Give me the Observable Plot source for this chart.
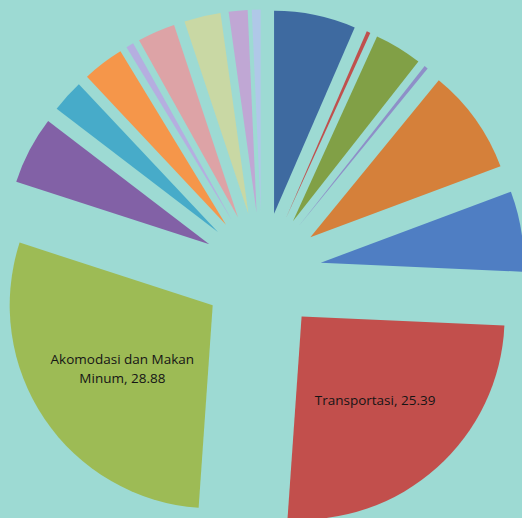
<!DOCTYPE html>
<html>
<head>
<meta charset="utf-8">
<script src="https://cdn.jsdelivr.net/npm/d3@7"></script>
<script src="https://cdn.jsdelivr.net/npm/@observablehq/plot@0.6"></script>
<style>
  html, body { margin: 0; padding: 0; background: #9ddad3; overflow: hidden; }
  #chart svg { display: block; }
</style>
</head>
<body>
<div id="chart"></div>
<script>
// Categories, clockwise from 12 o'clock
const categories = [
  "Kategori 1", "Kategori 2", "Kategori 3", "Kategori 4", "Kategori 5", "Kategori 6",
  "Transportasi", "Akomodasi dan Makan Minum",
  "Kategori 9", "Kategori 10", "Kategori 11", "Kategori 12", "Kategori 13",
  "Kategori 14", "Kategori 15", "Kategori 16"
];
const values = [
  6.5, 0.3, 3.8, 0.3, 8.4, 6.4,
  25.39, 28.88,
  5.4, 2.6, 3.3, 0.6, 3.0, 2.9, 1.5, 0.7
];
const colors = [
  "#3e6aa0", "#c0504d", "#81a046", "#8e8fc8", "#d5803a", "#4f7ec3",
  "#c24f4c", "#9dbb55",
  "#8261a6", "#47abc9", "#f5964a", "#b5aee0", "#dda3a6", "#c9d8a4", "#c0a7d4", "#b0c8e8"
];
const labelled = ["Transportasi", "Akomodasi dan Makan Minum"];

const explode = 0.293;   // slice offset, in radius units
const labelDist = 0.54;  // label distance from slice tip, in radius units

const arcs = d3.pie().sort(null).value(d => d)(values);
const slices = categories.map((c, i) => {
  const a = arcs[i];
  const mid = (a.startAngle + a.endAngle) / 2;
  return {
    category: c, value: values[i], color: colors[i],
    start: a.startAngle, end: a.endAngle,
    cx: explode * Math.sin(mid), cy: explode * Math.cos(mid),
    lx: (explode + labelDist) * Math.sin(mid), ly: (explode + labelDist) * Math.cos(mid)
  };
});

const pieMark = (index, scales) => {
  const {x, y} = scales;
  const r = x(1) - x(0);
  const arc = d3.arc().innerRadius(0).outerRadius(r);
  const g = d3.create("svg:g");
  g.selectAll("path").data(slices).join("path")
    .attr("transform", d => `translate(${x(d.cx)},${y(d.cy)})`)
    .attr("d", d => arc({startAngle: d.start, endAngle: d.end}))
    .attr("fill", d => d.color);
  return g.node();
};

const chart = Plot.plot({
  width: 522,
  height: 518,
  margin: 0,
  x: {domain: [-262 / 203, 260 / 203], axis: null},
  y: {domain: [-246 / 203, 272 / 203], axis: null},
  style: {background: "#9ddad3", fontFamily: "'Open Sans', sans-serif"},
  marks: [
    pieMark,
    Plot.text(slices.filter(d => labelled.includes(d.category)), {
      x: "lx", y: "ly",
      text: d => `${d.category}, ${d.value}`,
      lineWidth: 12,
      lineHeight: 1.4,
      fontSize: 13.5,
      fill: "#151515",
      textAnchor: "middle"
    })
  ]
});
document.getElementById("chart").appendChild(chart);
</script>
</body>
</html>
